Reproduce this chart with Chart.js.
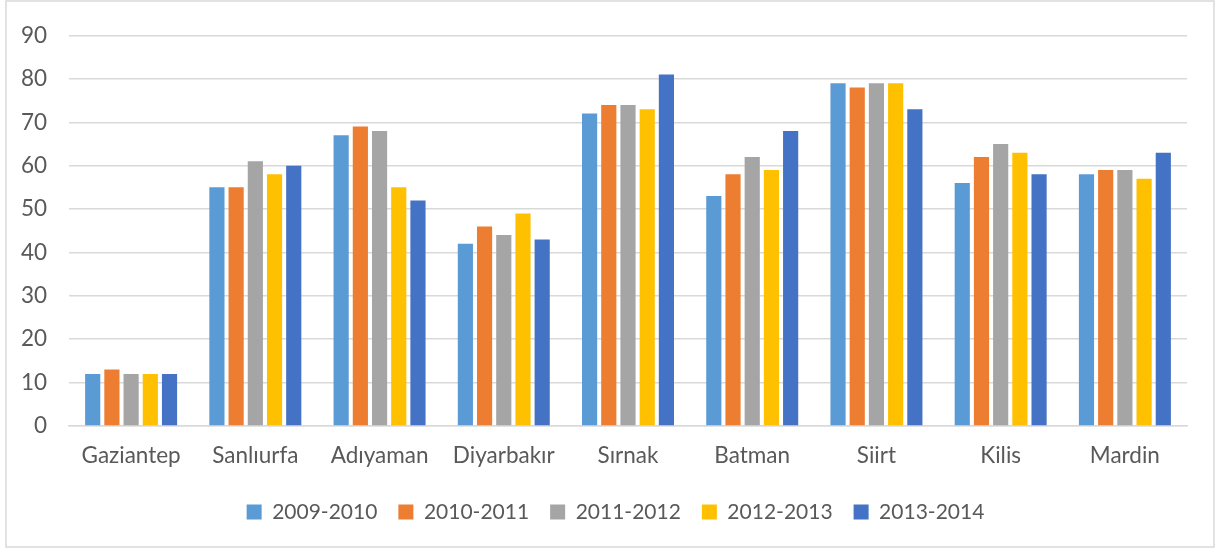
<!DOCTYPE html>
<html>
<head>
<meta charset="utf-8">
<script src="https://cdn.jsdelivr.net/npm/chart.js@4.4.1/dist/chart.umd.min.js"></script>
<style>
  html, body { margin: 0; padding: 0; background: #ffffff; }
  #wrap { position: relative; width: 1215px; height: 549px; }
</style>
</head>
<body>
<div id="wrap"><canvas id="c" width="1215" height="549"></canvas></div>
<script>
const categories = ['Gaziantep', 'Sanlıurfa', 'Adıyaman', 'Diyarbakır', 'Sırnak', 'Batman', 'Siirt', 'Kilis', 'Mardin'];
const seriesNames = ['2009-2010', '2010-2011', '2011-2012', '2012-2013', '2013-2014'];
const s2009 = [12, 55, 67, 42, 72, 53, 79, 56, 58];
const s2010 = [13, 55, 69, 46, 74, 58, 78, 62, 59];
const s2011 = [12, 61, 68, 44, 74, 62, 79, 65, 59];
const s2012 = [12, 58, 55, 49, 73, 59, 79, 63, 57];
const s2013 = [12, 60, 52, 43, 81, 68, 73, 58, 63];
const yTicks = [0, 10, 20, 30, 40, 50, 60, 70, 80, 90];
const colors = ['#5B9BD5', '#ED7D31', '#A5A5A5', '#FFC000', '#4472C4'];

const allSeries = [s2009, s2010, s2011, s2012, s2013];
const FONT = 'Lato, "Open Sans", sans-serif';
const TXT = '#595959';

const frame = {
  id: 'frame',
  beforeDraw(chart) {
    const ctx = chart.ctx;
    ctx.save();
    ctx.fillStyle = '#ffffff';
    ctx.fillRect(0, 0, chart.width, chart.height);
    ctx.restore();
  },
  afterDraw(chart) {
    const ctx = chart.ctx;
    ctx.save();
    ctx.strokeStyle = '#d9d9d9';
    ctx.lineWidth = 1.5;
    ctx.strokeRect(6, 1, 1208, 546);
    ctx.restore();
  }
};

const legendFit = {
  id: 'legendFit',
  beforeInit(chart) {
    const orig = chart.legend.fit;
    chart.legend.fit = function () {
      orig.bind(chart.legend)();
      this.height = 68.5;
    };
  },
  afterLayout(chart) {
    chart.legend.left += 22;
    chart.legend.right += 22;
  }
};

new Chart(document.getElementById('c'), {
  type: 'bar',
  data: {
    labels: categories,
    datasets: allSeries.map((d, i) => ({
      label: seriesNames[i],
      data: d,
      backgroundColor: colors[i],
      borderWidth: 0,
      categoryPercentage: 0.773,
      barPercentage: 0.79
    }))
  },
  options: {
    responsive: false,
    animation: false,
    devicePixelRatio: 1,
    layout: { padding: { left: 0, right: 28, top: 31, bottom: 0 } },
    plugins: {
      legend: {
        position: 'bottom',
        labels: {
          boxWidth: 15,
          boxHeight: 15,
          padding: 21,
          color: TXT,
          font: { family: FONT, size: 21 }
        }
      },
      tooltip: { enabled: false }
    },
    scales: {
      x: {
        grid: { display: false, drawTicks: false },
        border: { display: true, color: '#d9d9d9', width: 1.5 },
        ticks: { color: TXT, font: { family: FONT, size: 22.5 }, padding: 16, maxRotation: 0 },
        afterFit(scale) { scale.height = 54.5; }
      },
      y: {
        min: 0,
        max: 90,
        afterBuildTicks(scale) { scale.ticks = yTicks.map(v => ({ value: v })); },
        grid: { color: '#d9d9d9', lineWidth: 1.5, drawTicks: false },
        border: { display: false },
        ticks: { color: TXT, font: { family: FONT, size: 22.5 }, padding: 22 },
        afterFit(scale) { scale.width = 69; }
      }
    }
  },
  plugins: [frame, legendFit]
});
</script>
</body>
</html>
